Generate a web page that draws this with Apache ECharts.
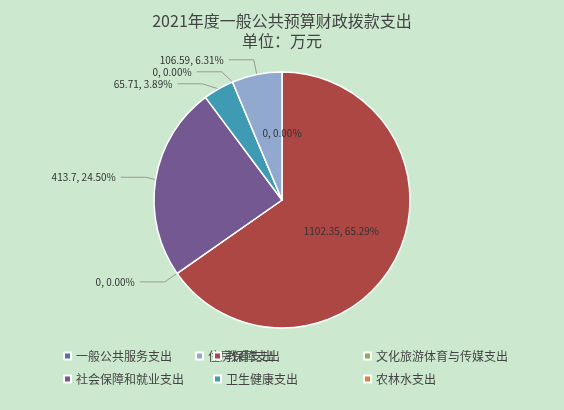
<!DOCTYPE html><html><head><meta charset="utf-8"><script src="https://cdn.jsdelivr.net/npm/echarts@6/dist/echarts.min.js"></script>
<style>html,body{margin:0;background:#cce8cf}#c{width:564px;height:410px}</style></head><body><div id="c"></div><script>
const categories=['一般公共服务支出','教育支出','文化旅游体育与传媒支出','社会保障和就业支出','卫生健康支出','农林水支出','住房保障支出',''];
const values=[0,1102.35,0,413.7,65.71,0,106.59,null];
const pcts=['0.00%','65.29%','0.00%','24.50%','3.89%','0.00%','6.31%',''];
const colors=['#4a76b0','#ac4744','#8fab55','#745892','#3f9bb3','#e07f35','#92a9cf','#d59391'];
const labelPos=['inside','inside','outside','outside','outside','outside','outside','outside'];
const font='"Noto Sans CJK SC", sans-serif';
const data=categories.map((c,i)=>({name:c,value:values[i],itemStyle:{color:colors[i]},
 label:{show:values[i]!==null,position:labelPos[i],formatter:values[i]+', '+pcts[i]}}));
const cols=[[0,3,6],[1,4,7],[2,5]];const lefts=[58,208,358];
const chart=echarts.init(document.getElementById('c'));
chart.setOption({backgroundColor:'#cce8cf',animation:false,
title:{text:'2021年度一般公共预算财政拨款支出\n单位：万元',left:'center',top:6,textStyle:{fontFamily:font,fontSize:16,fontWeight:'normal',color:'#444',lineHeight:20}},
legend:cols.map((col,k)=>({orient:'vertical',left:lefts[k],top:345,itemWidth:7,itemHeight:7,itemGap:11,icon:'rect',selectedMode:false,
 data:col.map(i=>({name:categories[i],itemStyle:{color:colors[i]}})),textStyle:{fontFamily:font,fontSize:12,color:'#444'}})),
series:[{type:'pie',center:[282,200],radius:[0,128],startAngle:90,clockwise:true,avoidLabelOverlap:true,
 itemStyle:{borderColor:'#fff',borderWidth:1.5},
 label:{fontFamily:font,fontSize:10,color:'#333'},labelLine:{length:15,length2:25,lineStyle:{color:'#999'}},
 data:data}]});
</script></body></html>
